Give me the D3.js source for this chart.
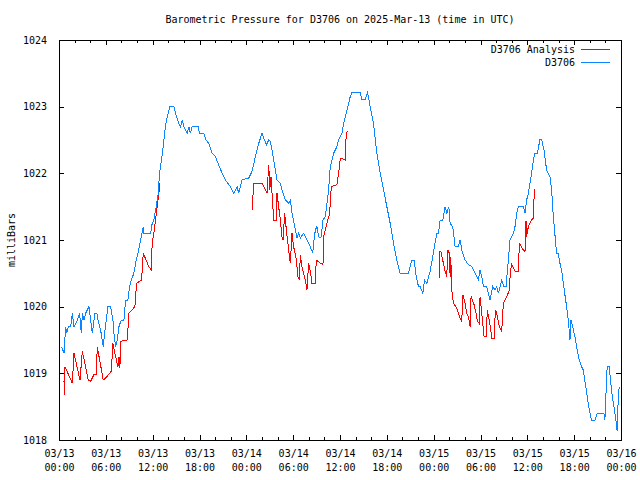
<!DOCTYPE html>
<html><head><meta charset="utf-8">
<script src="https://cdn.jsdelivr.net/npm/d3@7/dist/d3.min.js"></script>
<style>body{margin:0;background:#fff}svg{display:block}</style>
</head><body><svg id="c" width="640" height="480"></svg>
<script>
const titleText = "Barometric Pressure for D3706 on 2025-Mar-13 (time in UTC)";
const yAxisLabel = "milliBars";
const startUTC = Date.UTC(2025, 2, 13, 0, 0);
const yTickValues = [1018, 1019, 1020, 1021, 1022, 1023, 1024];
const xMajorHours = [0, 6, 12, 18, 24, 30, 36, 42, 48, 54, 60, 66, 72];
const xTickDates = ["03/13","03/13","03/13","03/13","03/14","03/14","03/14","03/14","03/15","03/15","03/15","03/15","03/16"];
const xTickTimes = ["00:00","06:00","12:00","18:00","00:00","06:00","12:00","18:00","00:00","06:00","12:00","18:00","00:00"];
const seriesNames = ["D3706 Analysis", "D3706"];

// D3706 observed (hours since 2025-03-13 00:00 UTC, mb)
const stationHours = [0.34,0.64,0.85,0.98,1.19,1.49,1.71,1.92,2.35,2.64,2.86,2.99,3.20,3.41,3.84,4.05,4.26,4.61,4.86,4.99,5.33,5.67,5.84,6.06,6.27,6.61,6.91,7.04,7.25,7.46,7.68,7.97,8.32,8.53,8.83,9.04,9.25,9.59,9.89,10.11,10.45,10.79,10.87,11.73,11.94,12.15,12.45,12.71,12.88,13.13,13.35,13.52,13.77,14.20,14.71,14.93,15.35,15.57,15.78,15.99,16.42,16.63,16.84,17.06,17.83,18.00,18.55,18.85,19.19,19.62,20.04,20.38,20.90,21.32,21.96,22.39,22.81,23.03,23.45,24.31,24.73,25.16,25.59,26.01,26.23,26.57,26.87,27.08,27.51,27.93,28.36,28.57,29.00,29.42,29.64,29.85,30.28,30.49,30.70,30.92,31.34,31.77,32.20,32.50,32.62,32.84,33.05,33.26,33.56,33.82,34.12,34.54,34.75,35.18,35.61,35.82,36.25,36.46,36.89,37.31,37.53,38.59,38.81,39.23,39.53,39.87,40.30,40.72,41.15,41.58,42.00,42.43,42.86,43.28,43.71,44.78,45.20,45.50,45.76,46.06,46.27,46.61,46.83,47.12,47.55,47.80,48.02,48.40,48.61,48.83,49.17,49.47,49.68,49.94,50.11,50.45,50.75,51.17,51.39,51.60,52.03,52.45,52.88,53.30,53.73,53.94,54.16,54.37,54.80,55.01,55.22,55.57,55.86,56.08,56.29,56.72,57.01,57.27,57.57,57.78,58.21,58.42,58.64,58.85,59.49,59.70,59.91,60.13,60.55,60.77,60.98,61.28,61.62,61.83,62.13,62.47,62.90,63.11,63.33,63.75,63.97,64.18,64.39,64.61,65.03,65.25,65.46,65.59,65.80,66.10,66.31,66.65,66.95,67.16,67.42,67.68,67.93,68.23,68.66,68.95,69.81,69.94,70.15,70.23,70.49,70.66,70.83,71.09,71.34,71.51,71.64,71.77];
const stationValues = [1019.40,1019.30,1019.70,1019.60,1019.70,1019.70,1019.90,1019.70,1019.80,1019.90,1019.60,1019.90,1019.80,1019.90,1020.00,1019.80,1019.60,1019.90,1019.90,1019.80,1019.65,1019.40,1019.60,1019.80,1020.00,1020.00,1019.80,1019.60,1019.40,1019.50,1019.70,1019.80,1019.80,1020.10,1020.10,1020.30,1020.40,1020.50,1020.70,1020.80,1021.00,1021.20,1021.10,1021.10,1021.25,1021.30,1021.50,1021.70,1022.00,1022.20,1022.40,1022.60,1022.80,1023.00,1023.00,1022.90,1022.75,1022.70,1022.80,1022.70,1022.60,1022.70,1022.60,1022.70,1022.70,1022.60,1022.60,1022.50,1022.45,1022.30,1022.25,1022.15,1022.00,1021.90,1021.80,1021.70,1021.80,1021.70,1021.90,1021.93,1022.03,1022.25,1022.45,1022.60,1022.53,1022.43,1022.50,1022.48,1022.20,1021.90,1021.85,1021.75,1021.60,1021.55,1021.60,1021.40,1021.15,1021.03,1021.10,1021.03,1021.10,1021.00,1020.90,1020.80,1020.95,1021.15,1021.20,1021.05,1021.03,1021.30,1021.35,1021.75,1022.10,1022.30,1022.40,1022.50,1022.60,1022.75,1022.95,1023.15,1023.21,1023.21,1023.11,1023.11,1023.21,1023.00,1022.75,1022.30,1022.00,1021.75,1021.50,1021.25,1020.95,1020.70,1020.50,1020.50,1020.70,1020.70,1020.45,1020.30,1020.30,1020.20,1020.40,1020.35,1020.53,1020.70,1020.85,1021.10,1021.10,1021.30,1021.30,1021.50,1021.40,1021.50,1021.25,1021.20,1020.90,1020.90,1021.00,1020.85,1020.70,1020.63,1020.60,1020.50,1020.40,1020.55,1020.45,1020.30,1020.30,1020.20,1020.10,1020.30,1020.25,1020.30,1020.20,1020.40,1020.30,1020.30,1020.70,1021.00,1021.10,1021.20,1021.40,1021.50,1021.50,1021.40,1021.60,1021.70,1022.00,1022.20,1022.30,1022.30,1022.51,1022.51,1022.35,1022.05,1021.95,1021.75,1021.35,1020.80,1020.80,1020.65,1020.55,1020.35,1020.00,1019.80,1019.50,1019.80,1019.70,1019.55,1019.40,1019.20,1019.10,1019.05,1018.85,1018.65,1018.45,1018.30,1018.30,1018.40,1018.40,1018.30,1018.90,1019.10,1019.10,1018.90,1018.70,1018.50,1018.30,1018.13,1018.60,1018.80];

// D3706 Analysis (null = gap)
const analysisHours = [0.64,0.68,0.77,1.71,1.92,2.69,2.99,3.75,4.05,4.48,4.78,4.90,5.67,5.97,6.70,6.91,7.25,7.55,7.68,7.80,7.93,8.74,8.96,9.72,9.94,10.58,10.79,11.51,11.81,11.94,12.15,12.37,12.58,12.79,12.92,null,24.73,24.95,26.01,26.23,26.65,26.87,27.00,27.16,27.29,27.51,27.85,27.93,28.14,28.36,28.57,28.70,28.91,29.13,29.42,29.64,29.85,30.06,30.41,30.62,30.79,30.92,31.13,31.34,31.56,31.77,31.98,32.20,32.41,32.84,32.96,33.48,33.82,33.90,34.33,34.67,34.88,35.61,35.82,36.04,36.67,36.80,36.97,null,48.70,48.74,48.91,49.25,49.47,49.68,49.81,50.02,50.11,50.19,50.32,50.53,50.96,51.39,51.60,51.73,52.03,52.24,52.45,52.67,52.79,53.18,53.43,53.60,53.82,53.94,54.07,54.29,54.46,54.71,54.88,55.22,55.44,55.74,55.91,56.08,56.42,56.72,56.93,57.36,57.70,57.78,57.87,58.00,58.42,58.85,58.98,59.49,59.70,59.83,59.91,60.13,60.55,60.77,60.90];
const analysisValues = [1018.88,1018.68,1019.10,1018.85,1019.30,1018.90,1019.33,1018.90,1018.88,1018.98,1018.98,1019.40,1018.90,1018.93,1019.03,1019.45,1019.25,1019.10,1019.25,1019.08,1019.48,1019.50,1019.90,1020.00,1020.35,1020.40,1020.80,1020.60,1020.55,1020.95,1021.10,1021.30,1021.50,1021.70,1021.85,null,1021.45,1021.85,1021.85,1021.80,1021.70,1022.13,1021.75,1021.95,1021.70,1021.30,1021.30,1021.70,1021.50,1021.30,1021.05,1021.00,1021.40,1021.15,1020.85,1020.65,1021.10,1020.90,1020.70,1020.45,1020.40,1020.78,1020.60,1020.50,1020.40,1020.25,1020.65,1020.53,1020.35,1020.35,1020.70,1020.65,1020.63,1021.05,1021.25,1021.40,1021.80,1021.83,1022.00,1022.23,1022.20,1022.60,1022.63,null,1020.43,1020.83,1020.83,1020.65,1020.53,1020.45,1020.85,1020.80,1020.45,1020.75,1020.25,1020.05,1019.98,1019.83,1019.78,1020.18,1020.05,1019.90,1019.85,1019.70,1020.15,1020.03,1019.90,1019.78,1019.75,1020.15,1020.00,1019.75,1019.55,1019.55,1019.95,1019.73,1019.53,1019.53,1019.95,1019.90,1019.70,1019.63,1020.05,1020.15,1020.25,1020.43,1020.55,1020.63,1020.53,1020.53,1020.95,1020.85,1020.83,1021.28,1021.05,1021.20,1021.30,1021.33,1021.76];

const W = 640, H = 480;
const m = {left: 59, right: 19, top: 40, bottom: 40};
const FONT = "'DejaVu Sans Mono', 'Liberation Mono', monospace";
const RED = "#ff0000", BLUE = "#0a84ff";

const svg = d3.select("#c");
svg.append("rect").attr("width", W).attr("height", H).attr("fill", "#fff");

const toDate = h => new Date(startUTC + h * 3600000);
const x = d3.scaleUtc().domain([toDate(0), toDate(72)]).range([m.left, W - m.right]);
const y = d3.scaleLinear().domain([1018, 1024]).range([H - m.bottom, m.top]);

const minorHours = d3.range(0, 73, 2).filter(h => h % 6 !== 0);

// bottom axis
const gB = svg.append("g").attr("transform", `translate(0,${H - m.bottom})`)
  .call(d3.axisBottom(x).tickValues(xMajorHours.map(toDate)).tickSize(-5).tickPadding(0).tickFormat(""));
gB.selectAll(".tick").each(function(d, i) {
  const t = d3.select(this).append("text").attr("fill", "#000").attr("text-anchor", "middle");
  t.append("tspan").attr("x", 0).attr("y", 17).text(xTickDates[i]);
  t.append("tspan").attr("x", 0).attr("y", 31).text(xTickTimes[i]);
});
svg.append("g").attr("transform", `translate(0,${H - m.bottom})`)
  .call(d3.axisBottom(x).tickValues(minorHours.map(toDate)).tickSize(-3).tickFormat(""));
// top axis
svg.append("g").attr("transform", `translate(0,${m.top})`)
  .call(d3.axisTop(x).tickValues(xMajorHours.map(toDate)).tickSize(-5).tickFormat(""));
svg.append("g").attr("transform", `translate(0,${m.top})`)
  .call(d3.axisTop(x).tickValues(minorHours.map(toDate)).tickSize(-3).tickFormat(""));
// left axis
svg.append("g").attr("transform", `translate(${m.left},0)`)
  .call(d3.axisLeft(y).tickValues(yTickValues).tickSize(-5).tickPadding(12).tickFormat(d3.format("d")));
// right axis
svg.append("g").attr("transform", `translate(${W - m.right},0)`)
  .call(d3.axisRight(y).tickValues(yTickValues).tickSize(-5).tickFormat(""));

svg.selectAll(".domain").remove();
svg.selectAll(".tick line").attr("stroke", "#000").attr("shape-rendering", "crispEdges");
svg.selectAll(".tick text").attr("font-family", FONT).attr("font-size", 10).attr("fill", "#000");

// frame
svg.append("rect").attr("x", m.left + 0.5).attr("y", m.top + 0.5)
  .attr("width", W - m.right - m.left).attr("height", H - m.bottom - m.top)
  .attr("fill", "none").attr("stroke", "#000").attr("shape-rendering", "crispEdges");

// lines
const line = d3.line().defined(d => d[1] != null).x(d => x(toDate(d[0]))).y(d => y(d[1]));
const analysis = analysisHours.map((h, i) => [h, analysisValues[i]]);
const station = stationHours.map((h, i) => [h, stationValues[i]]);
svg.append("path").datum(analysis).attr("d", line).attr("fill", "none").attr("stroke", RED)
  .attr("stroke-width", 1).attr("shape-rendering", "crispEdges");
svg.append("path").datum(station).attr("d", line).attr("fill", "none").attr("stroke", BLUE)
  .attr("stroke-width", 1).attr("shape-rendering", "crispEdges");

// title
svg.append("text").attr("x", (m.left + W - m.right) / 2).attr("y", 23).attr("text-anchor", "middle")
  .attr("font-family", FONT).attr("font-size", 10).text(titleText);
// y label
svg.append("text").attr("transform", `translate(15,${(m.top + H - m.bottom) / 2}) rotate(-90)`)
  .attr("text-anchor", "middle").attr("font-family", FONT).attr("font-size", 10).text(yAxisLabel);

// legend
const legColors = [RED, BLUE];
seriesNames.forEach((n, i) => {
  const ly = 49.5 + i * 13;
  svg.append("text").attr("x", 575).attr("y", ly + 3.5).attr("text-anchor", "end")
    .attr("font-family", FONT).attr("font-size", 10).text(n);
  svg.append("line").attr("x1", 581).attr("x2", 610).attr("y1", ly).attr("y2", ly)
    .attr("stroke", legColors[i]).attr("stroke-width", 1).attr("shape-rendering", "crispEdges");
});
</script></body></html>
